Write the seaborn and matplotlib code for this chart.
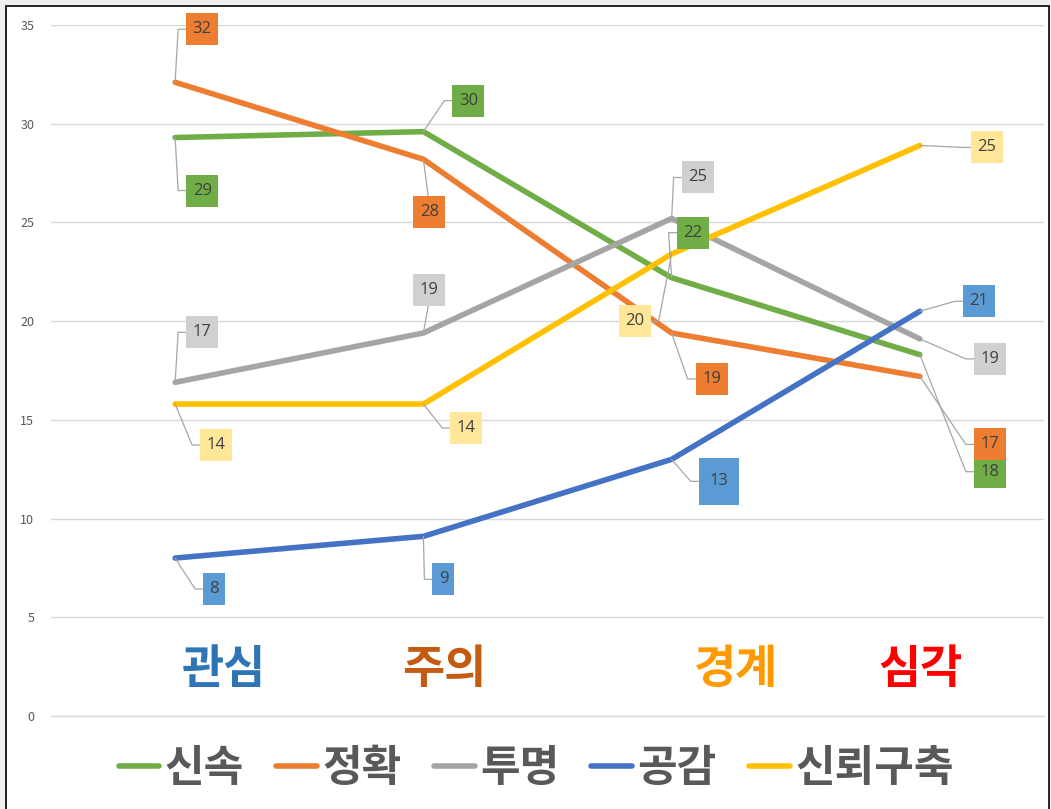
import matplotlib
matplotlib.use('Agg')
import matplotlib.pyplot as plt
import matplotlib.transforms as mtransforms
from matplotlib.lines import Line2D
from matplotlib.patches import Rectangle
import seaborn as sns
import pandas as pd

# chart data
stages = ['관심', '주의', '경계', '심각']
stage_colors = ['#2E75B6', '#C55A11', '#FF9900', '#FF0000']
series = ['신속', '정확', '투명', '공감', '신뢰구축']
line_colors = ['#70AD47', '#ED7D31', '#A5A5A5', '#4472C4', '#FFC000']
box_colors = ['#70AD47', '#ED7D31', '#D0D0D0', '#5B9BD5', '#FFE699']

speed = [29.3, 29.6, 22.2, 18.3]
accuracy = [32.1, 28.2, 19.4, 17.2]
transparency = [16.9, 19.4, 25.2, 19.1]
empathy = [8.0, 9.1, 13.0, 20.5]
trust = [15.8, 15.8, 23.4, 28.9]

# data label texts, as shown on the chart
speed_lbl = ['29', '30', '22', '18']
accuracy_lbl = ['32', '28', '19', '17']
transparency_lbl = ['17', '19', '25', '19']
empathy_lbl = ['8', '9', '13', '21']
trust_lbl = ['14', '14', '20', '25']

values = [speed, accuracy, transparency, empathy, trust]
labels = [speed_lbl, accuracy_lbl, transparency_lbl, empathy_lbl, trust_lbl]

# label box offsets from the point, in pixels (dx, dy)
label_offsets = [
    [(27, -53), (45, 31), (21, 45), (70, -117)],
    [(27, 53), (6, -53), (40, -46), (70, -68)],
    [(27, 50), (6, 43), (26, 41), (70, -20)],
    [(39, -31), (20, -43), (47, -22), (59, 10)],
    [(41, -41), (43, -24), (-37, -67), (67, -2)],
]

rows = []
for name, vals in zip(series, values):
    for i, v in enumerate(vals):
        rows.append({'stage': i, 'value': v, 'series': name})
df = pd.DataFrame(rows)

sns.set_style('white')
plt.rcParams['font.family'] = ['Noto Sans CJK KR', 'DejaVu Sans']

fig = plt.figure(figsize=(10.51, 8.09), dpi=100)
fig.patch.set_facecolor('#F0F0F0')
fig.patches.append(Rectangle((6 / 1051, -0.01), 1043 / 1051, 1 - 6 / 809 + 0.01,
                             transform=fig.transFigure, facecolor='white',
                             edgecolor='black', linewidth=1.2, zorder=-10))

ax = fig.add_axes([51 / 1051, 93 / 809, 993 / 1051, 691 / 809])
ax.set_facecolor('none')

sns.lineplot(data=df, x='stage', y='value', hue='series', hue_order=series,
             palette=line_colors, linewidth=4, sort=False, ax=ax,
             solid_capstyle='round', legend=True, zorder=3)
handles, names = ax.get_legend_handles_labels()
ax.get_legend().remove()

ax.set_xlim(-0.5, 3.5)
ax.set_ylim(0, 35)
ax.set_autoscale_on(False)
ax.set_yticks(range(0, 36, 5))
ax.set_xticks([])
ax.set_xlabel('')
ax.set_ylabel('')
ax.grid(axis='y', color='#D9D9D9', linewidth=1)
ax.axhline(0, color='#D9D9D9', linewidth=1, clip_on=False, zorder=1)
ax.tick_params(axis='y', length=0, labelsize=9, labelcolor='#595959', pad=12)
for s in ax.spines.values():
    s.set_visible(False)

# data labels with leader lines
for si in range(len(series)):
    for i in range(len(stages)):
        v = values[si][i]
        txt = labels[si][i]
        dx, dy = label_offsets[si][i]
        trans = mtransforms.Affine2D() + mtransforms.ScaledTranslation(i, v, ax.transData)
        w = 12 + 10 * len(txt)
        h = 32
        if (si, i) == (3, 2):
            w, h = 40, 47
        if abs(dx) < w / 2 + 2:
            # box sits above/below the point: straight line to its edge
            ey = dy - h / 2 if dy > 0 else dy + h / 2
            xs, ys = [0, dx * 0.8], [0, ey]
        else:
            edge = dx - w / 2 if dx > 0 else dx + w / 2
            elbow = edge - 8 if dx > 0 else edge + 8
            xs, ys = [0, elbow, edge], [0, dy, dy]
        ax.add_line(Line2D(xs, ys, transform=trans, color='#A6A6A6',
                           linewidth=0.9, zorder=4, clip_on=False))
        ax.add_patch(Rectangle((dx - w / 2, dy - h / 2), w, h, transform=trans,
                               facecolor=box_colors[si], edgecolor='none',
                               zorder=5 + (si == 1), clip_on=False))
        ax.text(dx, dy, txt, transform=trans, ha='center', va='center',
                fontsize=12, color='#404040', family=['Open Sans', 'DejaVu Sans'],
                zorder=7, clip_on=False)

# stage captions inside the plot
stage_dx = [49, 21, 64, 1]
for i, (name, col) in enumerate(zip(stages, stage_colors)):
    trans = mtransforms.Affine2D() + mtransforms.ScaledTranslation(i, 2.33, ax.transData)
    ax.text(stage_dx[i], 0, name, transform=trans, ha='center', va='center',
            fontsize=33, color=col, fontweight='bold')

fig.legend(handles, names, loc='center', bbox_to_anchor=(0.51, 0.051), ncol=5,
           frameon=False, handlelength=0.95, handletextpad=0.12,
           columnspacing=0.75, labelcolor='#595959',
           prop={'family': 'Noto Sans CJK KR', 'weight': 'bold', 'size': 31})

plt.savefig('out.png', dpi=100, facecolor=fig.get_facecolor())
